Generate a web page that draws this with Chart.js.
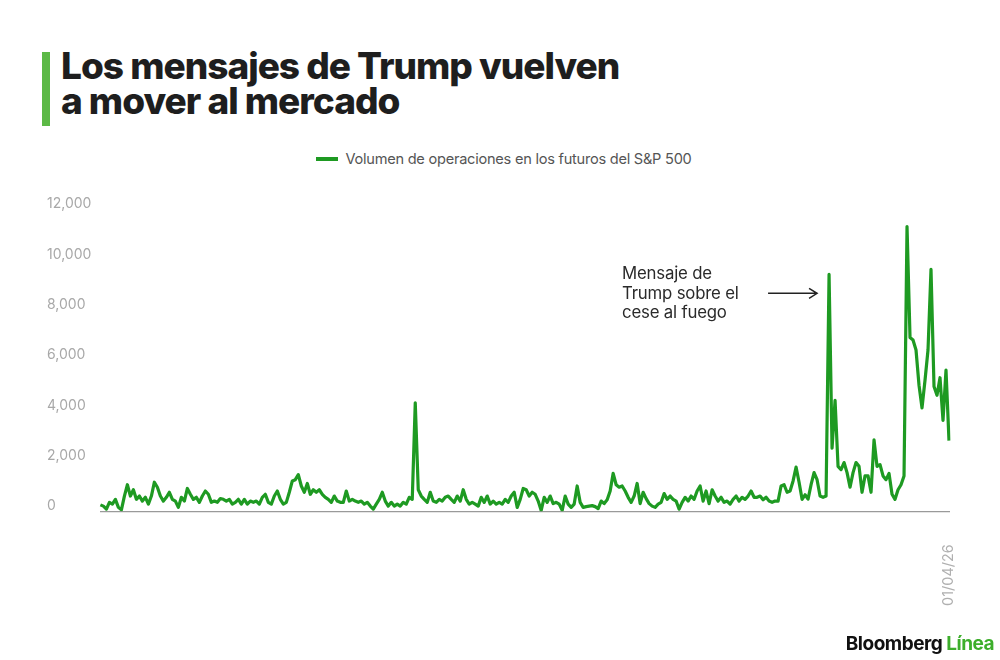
<!DOCTYPE html>
<html lang="es">
<head>
<meta charset="utf-8">
<title>Los mensajes de Trump vuelven a mover al mercado</title>
<script src="https://cdn.jsdelivr.net/npm/chart.js@4.4.1/dist/chart.umd.min.js"></script>
<style>
  html, body { margin: 0; padding: 0; background: #fff; }
  body { width: 1000px; height: 660px; position: relative; overflow: hidden; font-family: Inter, "Noto Sans", sans-serif; }
  #bar { position: absolute; left: 42px; top: 52px; width: 8px; height: 74px; background: #5cb946; }
  #title { position: absolute; left: 61px; top: 48px; font-size: 37px; line-height: 35px; font-weight: 800; color: #1e1e1e; letter-spacing: -1.0px; }
  #legend { position: absolute; left: 0; width: 1008px; top: 150px; text-align: center; font-size: 14.6px; color: #555; letter-spacing: -0.25px; }
  #legend .swatch { display: inline-block; width: 22px; height: 4px; background: #1e9a22; vertical-align: middle; margin-right: 7px; position: relative; top: -1px; }
  #wrap { position: absolute; left: 0; top: 180px; width: 1000px; height: 481px; }
  #logo { position: absolute; right: 6px; top: 632px; font-size: 19px; font-weight: 700; color: #111; letter-spacing: -0.5px; }
  #logo span { color: #3dae2b; }
</style>
</head>
<body>
<div id="bar"></div>
<div id="title">Los mensajes de Trump vuelven<br>a mover al mercado</div>
<div id="legend"><span class="swatch"></span>Volumen de operaciones en los futuros del S&amp;P 500</div>
<div id="wrap"><canvas id="chart"></canvas></div>
<div id="logo">Bloomberg <span>Línea</span></div>
<script>
const volumePart1 = [250, 200, 80, 350, 280, 470, 150, 50, 600, 1050, 600, 850, 470, 600, 400, 550,
  280, 600, 1150, 950, 600, 400, 550, 750, 470, 400, 150, 550, 400, 900, 670, 470,
  550, 350, 600, 800, 670, 350, 400, 350, 500, 470, 400, 470, 280, 350, 470, 280];
const volumePart2 = [470, 280, 400, 350, 400, 280, 550, 670, 350, 280, 600, 800, 470, 280, 350, 750,
  1200, 1250, 1450, 1000, 750, 1100, 670, 850, 750, 850, 670, 550, 470, 350, 600, 400,
  350, 350, 800, 400, 470, 400, 350, 400, 280, 350, 200, 80, 280, 470, 750, 400];
const volumePart3 = [200, 350, 200, 280, 200, 350, 280, 550, 470, 4300, 850, 600, 470, 350, 750, 400,
  350, 470, 400, 550, 600, 470, 350, 600, 400, 850, 470, 280, 350, 280, 200, 550,
  350, 600, 280, 400, 280, 350, 280, 470, 350, 600, 750, 150, 470, 900, 850, 600, 750];
const volumePart4 = [670, 400, 30, 550, 350, 600, 300, 350, 280, 30, 600, 280, 150, 280, 1000, 350,
  150, 180, 200, 220, 180, 100, 400, 300, 450, 800, 1500, 1050, 950, 1000, 800, 550,
  350, 600, 1100, 300, 750, 500, 300, 200, 150, 280, 350, 700, 470, 600, 470, 400];
const volumePart5 = [80, 350, 550, 400, 600, 470, 800, 1000, 400, 800, 300, 850, 600, 400, 550, 350,
  400, 280, 470, 600, 400, 550, 470, 600, 800, 550, 550, 600, 450, 550, 400, 350,
  400, 400, 1000, 1050, 750, 800, 1200, 1750];
const volumePart6 = [1150, 470, 650, 480, 1050, 1530, 1250, 600, 550, 600, 9400, 2500, 4400, 1780, 1650, 1930,
  1530, 950, 1530, 1930, 1780, 750, 1400, 1400, 750, 2830, 1780, 1850, 1400, 1250, 1500, 670,
  470, 850, 1050, 1400, 11300, 6900, 6800, 6400, 5000, 4100, 5200, 6400, 9600, 4950, 4600, 5300,
  3600, 5600, 2800];
const volume = [].concat(volumePart1, volumePart2, volumePart3, volumePart4, volumePart5, volumePart6);

const seriesLabel = 'Volumen de operaciones en los futuros del S&P 500';
const lastDateLabel = '01/04/26';
const xLabels = volume.map((v, i) => i === volume.length - 1 ? lastDateLabel : '');
const yTicks = [0, 2000, 4000, 6000, 8000, 10000, 12000];

const annotationLines = ['Mensaje de', 'Trump sobre el', 'cese al fuego'];
const annotationIndex = volumePart1.length + volumePart2.length + volumePart3.length +
  volumePart4.length + volumePart5.length + 10;
const annotationLevel = 8650;

const annotationPlugin = {
  id: 'ceseAlFuego',
  afterDatasetsDraw(chart) {
    const ctx = chart.ctx;
    const pt = chart.getDatasetMeta(0).data[annotationIndex];
    const tipX = pt.x - 12;
    const ay = chart.scales.y.getPixelForValue(annotationLevel);
    ctx.save();
    ctx.strokeStyle = '#222';
    ctx.lineWidth = 1.5;
    ctx.beginPath();
    ctx.moveTo(tipX - 49, ay);
    ctx.lineTo(tipX, ay);
    ctx.moveTo(tipX - 8, ay - 5);
    ctx.lineTo(tipX, ay);
    ctx.lineTo(tipX - 8, ay + 5);
    ctx.stroke();
    ctx.fillStyle = '#2a2a2a';
    ctx.font = '16.8px Inter';
    ctx.letterSpacing = '-0.2px';
    ctx.textBaseline = 'middle';
    ctx.textAlign = 'left';
    annotationLines.forEach((t, i) => ctx.fillText(t, tipX - 195, ay - 19 + i * 19.5));
    ctx.restore();
  }
};

new Chart(document.getElementById('chart').getContext('2d'), {
  type: 'line',
  data: {
    labels: xLabels,
    datasets: [{
      label: seriesLabel,
      data: volume,
      borderColor: '#1e9a22',
      backgroundColor: '#1e9a22',
      borderWidth: 3.2,
      borderJoinStyle: 'round',
      pointRadius: 0,
      tension: 0,
      fill: false
    }]
  },
  options: {
    responsive: true,
    maintainAspectRatio: false,
    animation: false,
    layout: { padding: { left: 47, right: 51, top: 29, bottom: 22 } },
    plugins: { legend: { display: false }, tooltip: { enabled: false } },
    scales: {
      x: {
        grid: { display: false, drawTicks: false },
        border: { display: true, color: '#9a9a9a', width: 1.2 },
        ticks: { autoSkip: false, maxRotation: 90, minRotation: 90, padding: 33, color: '#b0b0b0',
          font: { family: 'Inter', size: 14.5 } }
      },
      y: {
        min: 0,
        max: 12000,
        grid: { display: false, drawTicks: false },
        border: { display: false },
        afterBuildTicks: ax => { ax.ticks = yTicks.map(v => ({ value: v })); },
        ticks: { crossAlign: 'far', padding: 4.5, labelOffset: -5, color: '#a8a8a8',
          font: { family: 'Inter', size: 14 }, callback: v => v.toLocaleString('en-US') }
      }
    }
  },
  plugins: [annotationPlugin]
});
</script>
</body>
</html>
